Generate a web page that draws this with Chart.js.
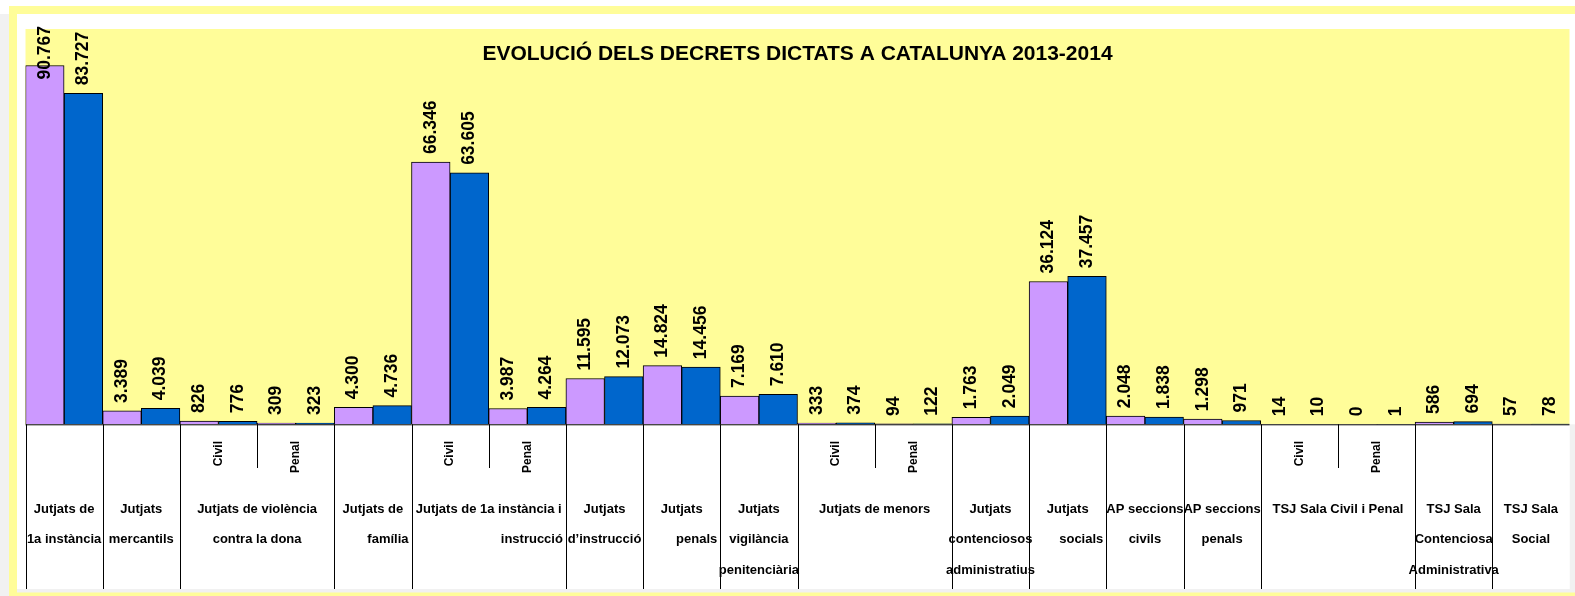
<!DOCTYPE html>
<html>
<head>
<meta charset="utf-8">
<script src="https://cdn.jsdelivr.net/npm/chart.js@4/dist/chart.umd.min.js"></script>
<style>
  html, body { margin: 0; padding: 0; background: #ffffff; }
  #wrap { width: 1575px; height: 596px; position: relative; }
</style>
</head>
<body>
<div id="wrap"><canvas id="decretsChart" width="1575" height="596"></canvas></div>
<script>
// Data
const categories = [
    '1a instància', 'mercantils', 'violència civil', 'violència penal', 'família',
    '1a inst. i instr. civil', '1a inst. i instr. penal', 'instrucció', 'penals', 'vigilància penitenciària',
    'menors civil', 'menors penal', 'contenciosos', 'socials', 'AP civils',
    'AP penals', 'TSJ civil', 'TSJ penal', 'TSJ contenciosa', 'TSJ social'
];
const values2013 = [90767, 3389, 826, 309, 4300, 66346, 3987, 11595, 14824, 7169, 333, 94, 1763, 36124, 2048, 1298, 14, 0, 586, 57];
const values2014 = [83727, 4039, 776, 323, 4736, 63605, 4264, 12073, 14456, 7610, 374, 122, 2049, 37457, 1838, 971, 10, 1, 694, 78];
const subLabels = ['', '', 'Civil', 'Penal', '', 'Civil', 'Penal', '', '', '', 'Civil', 'Penal', '', '', '', '', 'Civil', 'Penal', '', ''];
const groupLabels = [
    ['Jutjats de', '1a instància'],
    ['Jutjats', 'mercantils'],
    ['Jutjats de violència', 'contra la dona'],
    ['Jutjats de', 'família'],
    ['Jutjats de 1a instància i', 'instrucció'],
    ['Jutjats', 'd’instrucció'],
    ['Jutjats', 'penals'],
    ['Jutjats', 'vigilància', 'penitenciària'],
    ['Jutjats de menors'],
    ['Jutjats', 'contenciosos', 'administratius'],
    ['Jutjats', 'socials'],
    ['AP seccions', 'civils'],
    ['AP seccions', 'penals'],
    ['TSJ Sala Civil i Penal'],
    ['TSJ Sala', 'Contenciosa', 'Administrativa'],
    ['TSJ Sala', 'Social']
];
const groupSpans = [1, 1, 2, 1, 2, 1, 1, 1, 2, 1, 1, 1, 1, 2, 1, 1];
const chartTitle = 'EVOLUCIÓ DELS DECRETS DICTATS A CATALUNYA 2013-2014';

const FONT = '"Liberation Sans", Arial, Helvetica, sans-serif';
const YELLOW = '#FFFD99';

// thousands separator as in the original (Catalan style)
function fmt(v) {
    return String(v).replace(/\B(?=(\d{3})+(?!\d))/g, '.');
}

// paints the frame, yellow plot area and white table area
const backgroundPlugin = {
    id: 'frameBackground',
    beforeDraw(chart) {
        const ctx = chart.ctx;
        const a = chart.chartArea;
        ctx.save();
        ctx.fillStyle = '#ffffff';
        ctx.fillRect(0, 0, chart.width, chart.height);
        ctx.fillStyle = '#f1f1f1';
        ctx.fillRect(0, 14, 9, chart.height - 14);
        ctx.fillRect(17, 589, chart.width - 17, 4);
        ctx.fillRect(a.right, a.bottom, chart.width - a.right, 589 - a.bottom);
        ctx.fillStyle = YELLOW;
        ctx.fillRect(9, 6, chart.width - 9, 8);
        ctx.fillRect(9, 6, 8, chart.height - 6);
        ctx.fillRect(9, 592.5, chart.width - 9, chart.height - 592.5);
        ctx.fillRect(a.left, a.top, a.right - a.left, a.bottom - a.top);
        ctx.fillStyle = '#ffffff';
        ctx.fillRect(a.left, a.bottom, a.right - a.left, 589 - a.bottom);
        ctx.restore();
    }
};

// draws the category table under the bars, the value labels and the title
const tablePlugin = {
    id: 'categoryTable',
    afterDatasetsDraw(chart) {
        const ctx = chart.ctx;
        const a = chart.chartArea;
        const x = chart.scales.x;
        const slotW = (a.right - a.left) / categories.length;
        const edge = i => a.left + i * slotW;
        const tableBottom = 589;
        const shortBottom = 468;

        ctx.save();
        ctx.strokeStyle = '#000000';
        ctx.lineWidth = 1;

        // axis line
        ctx.beginPath();
        ctx.moveTo(a.left, a.bottom + 0.5);
        ctx.lineTo(a.right, a.bottom + 0.5);
        ctx.stroke();

        // group boundaries and sub boundaries
        let start = 0;
        const rightLines = { 3: [1], 4: [1], 6: [1], 10: [1] };
        groupSpans.forEach((span, g) => {
            const xl = Math.round(edge(start)) + 0.5;
            ctx.beginPath();
            ctx.moveTo(xl, a.bottom);
            ctx.lineTo(xl, tableBottom);
            ctx.stroke();
            for (let k = 1; k < span; k++) {
                const xs = Math.round(edge(start + k)) + 0.5;
                ctx.beginPath();
                ctx.moveTo(xs, a.bottom);
                ctx.lineTo(xs, shortBottom);
                ctx.stroke();
            }

            // group label lines
            const gl = edge(start), gr = edge(start + span);
            ctx.fillStyle = '#000000';
            ctx.font = 'bold 13px ' + FONT;
            ctx.textBaseline = 'middle';
            groupLabels[g].forEach((line, li) => {
                const y = 509 + li * 30.5;
                if (rightLines[g] && rightLines[g].includes(li)) {
                    ctx.textAlign = 'right';
                    ctx.fillText(line, gr - 3, y);
                } else {
                    ctx.textAlign = 'center';
                    ctx.fillText(line, (gl + gr) / 2, y);
                }
            });
            start += span;
        });

        // Civil / Penal sub labels
        ctx.font = 'bold 12px ' + FONT;
        ctx.textAlign = 'right';
        ctx.textBaseline = 'middle';
        subLabels.forEach((s, i) => {
            if (!s) return;
            ctx.save();
            ctx.translate(x.getPixelForValue(i), 441);
            ctx.rotate(-Math.PI / 2);
            ctx.textAlign = 'left';
            const w = ctx.measureText(s).width;
            ctx.fillText(s, -w, 0);
            ctx.restore();
        });

        // value labels, rotated, kept inside the plot area
        ctx.font = 'bold 17.5px ' + FONT;
        chart.data.datasets.forEach((ds, di) => {
            chart.getDatasetMeta(di).data.forEach((bar, i) => {
                const txt = fmt(ds.data[i]);
                const w = ctx.measureText(txt).width;
                let yStart = bar.y - 8;
                if (yStart - w < a.top - 3) yStart = a.top - 3 + w;
                ctx.save();
                ctx.translate(bar.x, yStart);
                ctx.rotate(-Math.PI / 2);
                ctx.textAlign = 'left';
                ctx.textBaseline = 'middle';
                ctx.fillText(txt, 0, 0);
                ctx.restore();
            });
        });

        // title drawn inside the plot area
        ctx.font = 'bold 21px ' + FONT;
        ctx.textAlign = 'center';
        ctx.textBaseline = 'alphabetic';
        ctx.fillText(chartTitle, (a.left + a.right) / 2, 60);
        ctx.restore();
    }
};

const ctx = document.getElementById('decretsChart').getContext('2d');
new Chart(ctx, {
    type: 'bar',
    data: {
        labels: categories,
        datasets: [
            {
                label: '2013',
                data: values2013,
                backgroundColor: '#CC99FF',
                borderColor: '#000000',
                borderWidth: 1
            },
            {
                label: '2014',
                data: values2014,
                backgroundColor: '#0066CC',
                borderColor: '#000000',
                borderWidth: 1
            }
        ]
    },
    options: {
        responsive: false,
        animation: false,
        devicePixelRatio: 1,
        layout: {
            padding: { left: 25.5, right: 5.5, top: 29, bottom: 171.7 }
        },
        datasets: {
            bar: { categoryPercentage: 1, barPercentage: 1 }
        },
        scales: {
            x: { display: false },
            y: { display: false, min: 0, max: 100000 }
        },
        plugins: {
            legend: { display: false },
            tooltip: { enabled: false },
            title: { display: false }
        }
    },
    plugins: [backgroundPlugin, tablePlugin]
});
</script>
</body>
</html>
